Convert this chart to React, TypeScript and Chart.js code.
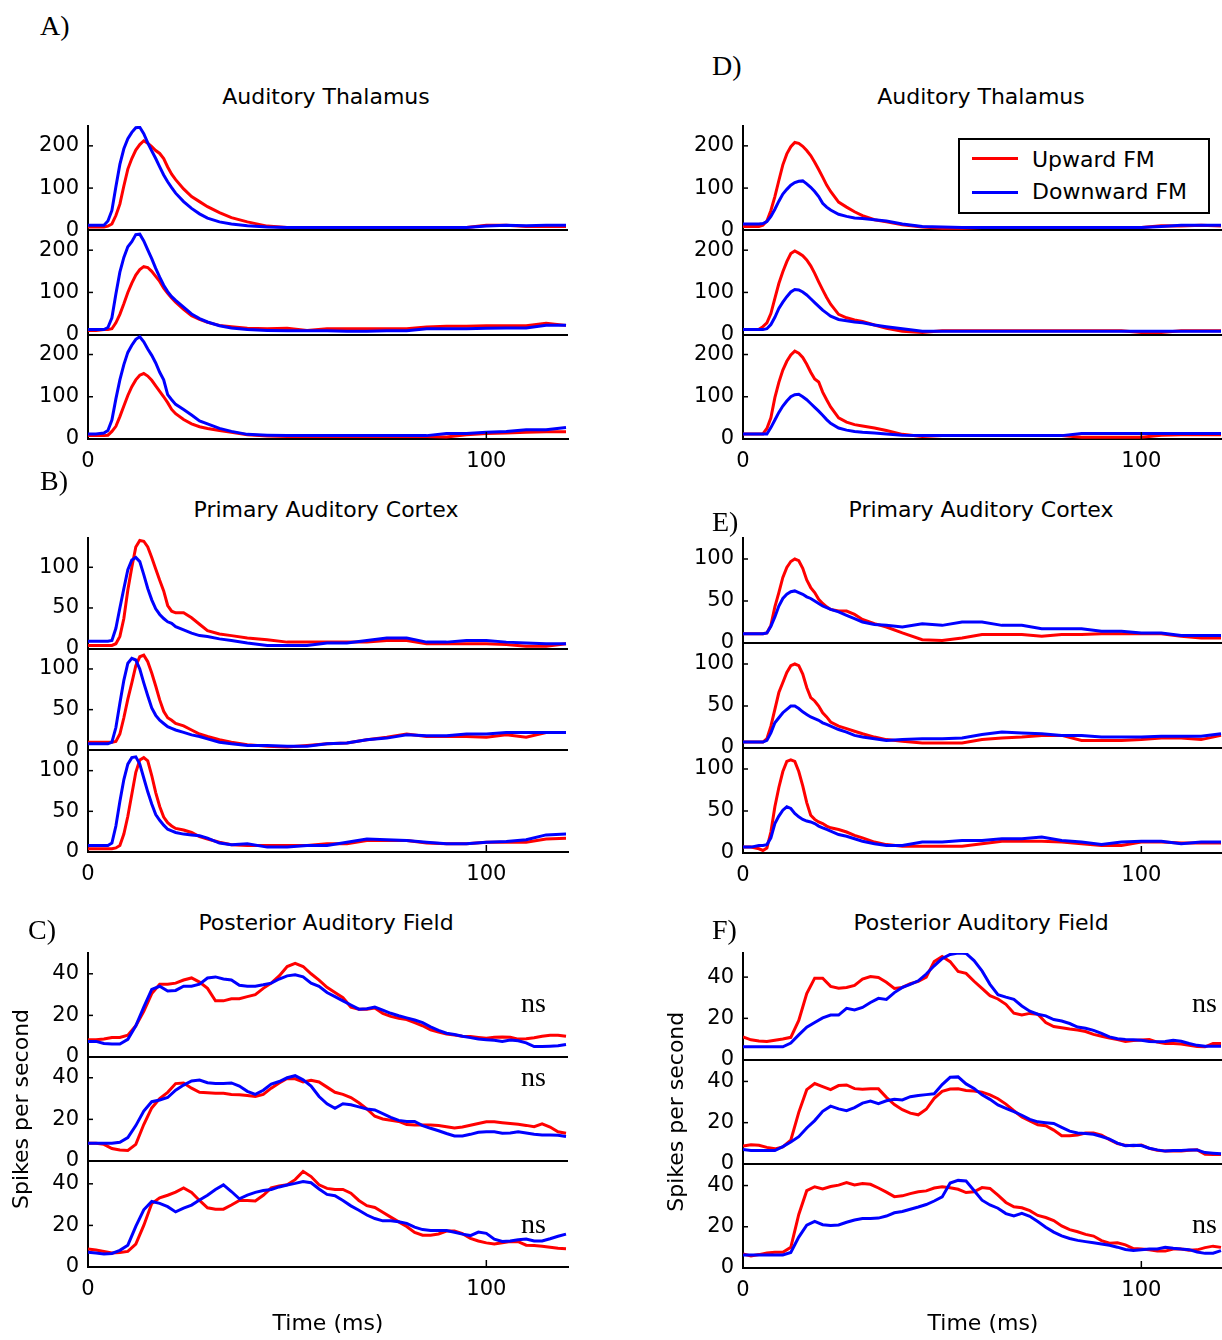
import React, { useEffect, useRef } from 'react';
import { Chart, registerables } from 'chart.js';

Chart.register(...registerables);

// ---------- time grids (ms) ----------
const T_FAST = [0, 2, 4, 5, 6, 7, 8, 9, 10, 11, 12, 13, 14, 15, 16, 17, 18, 19, 20, 21, 22, 24, 26, 28, 30, 33, 36, 40, 45, 50, 55, 60, 65, 70, 75, 80, 85, 90, 95, 100, 105, 110, 115, 120];
const T_SLOW = [0, 2, 4, 6, 8, 10, 12, 14, 16, 18, 20, 22, 24, 26, 28, 30, 32, 34, 36, 38, 40, 42, 44, 46, 48, 50, 52, 54, 56, 58, 60, 62, 64, 66, 68, 70, 72, 74, 76, 78, 80, 82, 84, 86, 88, 90, 92, 94, 96, 98, 100, 102, 104, 106, 108, 110, 112, 114, 116, 118, 120];

// ---------- tick labels ----------
const X_TICKS = [0, 100];
const Y_TICKS_THAL = [0, 100, 200];
const Y_TICKS_CTX = [0, 50, 100];
const Y_TICKS_PAF = [0, 20, 40];

// ---------- A) Auditory Thalamus (left) ----------
const A1_UP = [8, 8, 8, 10, 15, 35, 62, 105, 145, 170, 190, 203, 212, 206, 198, 189, 182, 170, 150, 133, 120, 98, 80, 68, 56, 42, 30, 20, 10, 7, 7, 7, 7, 7, 7, 7, 7, 7, 7, 12, 12, 9, 9, 9];
const A1_DOWN = [12, 12, 12, 22, 47, 103, 156, 193, 217, 232, 243, 244, 229, 207, 188, 170, 150, 131, 115, 101, 88, 68, 52, 39, 29, 20, 15, 11, 8, 7, 7, 7, 7, 7, 7, 7, 7, 7, 7, 10, 12, 11, 12, 12];
const A2_UP = [10, 10, 12, 12, 14, 28, 48, 73, 100, 122, 141, 154, 161, 159, 150, 138, 126, 110, 98, 87, 77, 60, 45, 36, 29, 22, 19, 15, 14, 15, 10, 14, 14, 14, 14, 14, 18, 20, 20, 21, 21, 21, 27, 22];
const A2_DOWN = [12, 12, 12, 17, 40, 96, 148, 183, 208, 220, 237, 238, 222, 201, 180, 157, 136, 117, 102, 90, 81, 65, 49, 38, 30, 21, 16, 12, 10, 9, 9, 9, 8, 8, 9, 9, 14, 14, 14, 15, 16, 16, 22, 22];
const A3_UP = [8, 8, 8, 9, 18, 30, 53, 78, 103, 124, 140, 151, 155, 149, 139, 126, 113, 100, 86, 70, 60, 46, 36, 29, 25, 20, 16, 10, 7, 6, 6, 6, 6, 6, 6, 6, 6, 5, 10, 13, 14, 16, 17, 17];
const A3_DOWN = [12, 12, 14, 20, 45, 95, 140, 176, 205, 222, 236, 242, 230, 213, 198, 180, 158, 140, 105, 93, 82, 70, 57, 43, 36, 25, 18, 11, 9, 8, 8, 8, 8, 8, 8, 8, 8, 13, 13, 16, 18, 22, 22, 27];

// ---------- B) Primary Auditory Cortex (left) ----------
const B1_UP = [4, 4, 4, 4, 4, 6, 15, 37, 72, 100, 125, 133, 132, 125, 112, 98, 84, 71, 53, 46, 44, 44, 38, 30, 22, 18, 16, 13, 11, 8, 8, 8, 8, 8, 10, 10, 6, 6, 6, 6, 5, 3, 3, 6];
const B1_DOWN = [9, 9, 9, 9, 10, 25, 50, 74, 97, 109, 112, 107, 91, 74, 60, 49, 42, 37, 33, 31, 27, 23, 19, 16, 15, 12, 10, 7, 4, 4, 4, 7, 7, 10, 13, 13, 8, 8, 10, 10, 8, 7, 6, 6];
const B2_UP = [10, 10, 10, 10, 10, 11, 20, 40, 63, 83, 104, 115, 117, 109, 95, 79, 62, 48, 40, 37, 33, 30, 25, 20, 17, 13, 10, 7, 5, 4, 6, 8, 9, 13, 16, 20, 17, 17, 17, 16, 19, 16, 22, 22];
const B2_DOWN = [8, 8, 8, 8, 10, 28, 58, 86, 107, 113, 111, 100, 83, 67, 52, 43, 37, 33, 29, 27, 25, 22, 19, 17, 14, 10, 8, 6, 6, 5, 5, 8, 9, 13, 15, 19, 18, 18, 20, 20, 22, 22, 22, 22];
const B3_UP = [4, 4, 4, 4, 4, 5, 8, 22, 44, 71, 98, 113, 116, 112, 94, 73, 56, 43, 36, 32, 29, 27, 24, 19, 16, 12, 9, 8, 8, 8, 8, 10, 10, 14, 14, 14, 11, 10, 10, 12, 12, 12, 16, 17];
const B3_DOWN = [8, 8, 8, 8, 11, 32, 62, 89, 108, 116, 117, 108, 91, 74, 59, 46, 39, 33, 28, 26, 24, 22, 21, 20, 17, 11, 9, 10, 6, 6, 8, 8, 12, 16, 15, 14, 12, 10, 10, 12, 13, 15, 21, 22];

// ---------- C) Posterior Auditory Field (left) ----------
const C1_UP = [8.3, 8.3, 8.6, 9.4, 9.4, 10.5, 15, 22, 30.5, 35, 35, 35.5, 37, 38, 36, 33, 27, 27, 28, 28, 29, 30, 33, 35.5, 39, 43.5, 45, 43.5, 40, 37, 33.5, 31, 28.5, 24, 23, 23, 23.5, 21, 19.5, 18.6, 18, 16.5, 15, 13, 12, 11, 10.6, 10, 9.8, 9.4, 9, 9.5, 9.6, 9.5, 8.6, 8.8, 9.2, 10, 10.5, 10.5, 10];
const C1_DOWN = [7.5, 7.5, 6.5, 6.2, 6.2, 8.5, 15, 24, 32.5, 34, 31.7, 32, 34, 34, 35, 38, 38.5, 37.5, 37, 34.5, 34, 34, 34.7, 35.5, 37.5, 39, 39.5, 38.5, 35.5, 34, 31, 29, 27, 25, 23, 23.2, 24, 22.5, 21, 19.8, 18.8, 17.8, 16.5, 14.5, 12.8, 11.4, 10.8, 10, 9.3, 8.6, 8.3, 8, 7.5, 8.2, 7.8, 6.8, 5, 5, 5.2, 5.4, 6];
const C2_UP = [8.5, 8.5, 8, 6, 5.3, 5, 8, 17.5, 25.5, 30, 33, 37.2, 37.5, 35, 33, 32.8, 32.6, 32.5, 32, 31.8, 31.5, 31, 32, 35, 37.5, 39.7, 39.5, 38, 38.8, 38, 35.5, 33, 32, 30.5, 28, 25, 21.5, 20.2, 19.6, 19, 17.5, 17.3, 17.3, 17.3, 17, 16.4, 15.8, 16.3, 17.2, 18, 18.8, 18.8, 18.4, 18, 17.6, 17.1, 16.5, 17.8, 16.3, 14, 13.3];
const C2_DOWN = [8.5, 8.5, 8.5, 8.5, 9, 11.2, 17, 24, 28.5, 29.3, 30.5, 34, 36.5, 38.5, 38.9, 37.6, 37.2, 37.3, 37.5, 36, 33.5, 32, 34, 37, 38.2, 40, 41, 39, 36, 31, 27.5, 25.3, 27.5, 27, 26, 25, 24.5, 22.8, 21, 19.5, 19, 19, 17, 15.7, 14.5, 13.2, 12, 12, 12.8, 13.8, 14, 14, 13.3, 13.4, 14, 13.4, 12.8, 12.5, 12.5, 12.3, 11.8];
const C3_UP = [8.7, 8.2, 7.5, 6.7, 7, 7.5, 11, 20, 30.5, 33.3, 34.5, 36, 38, 35.8, 32, 28.5, 27.8, 27.8, 29.8, 32, 32, 31.7, 34.5, 38, 39, 39.5, 42, 46, 43.5, 39.5, 37.8, 37.3, 37.3, 35.5, 32, 29.5, 28.6, 26.3, 24, 21.7, 19.5, 16.6, 15.3, 15.3, 15.9, 17.3, 17.3, 16, 13.8, 12.5, 11.6, 11.1, 11.7, 12.3, 12.2, 10.5, 10.3, 10, 9.5, 9, 8.8];
const C3_DOWN = [7.1, 6.7, 6.3, 6.5, 8, 10.5, 19.5, 27.5, 31.5, 30.6, 29, 26.5, 28.3, 29.8, 32.2, 34.5, 37.3, 39.5, 36.3, 32.8, 34.6, 35.9, 36.8, 37.3, 38.5, 39.4, 40.2, 41.1, 40.5, 37.5, 34.9, 34.3, 32, 29.4, 27.3, 25, 23.3, 22.2, 22.2, 21.8, 21, 19.2, 18, 17.5, 17.5, 17.5, 16.7, 15.8, 15.1, 16.8, 16.2, 13.4, 12.3, 12.5, 13.1, 13.5, 12.5, 12.5, 13.6, 14.8, 15.8];

// ---------- D) Auditory Thalamus (right) ----------
const D1_UP = [9, 9, 9, 12, 22, 47, 80, 118, 155, 181, 198, 208, 206, 199, 189, 177, 161, 144, 126, 107, 92, 67, 55, 44, 35, 25, 20, 13, 8, 5, 5, 7, 7, 7, 7, 7, 7, 7, 7, 7, 11, 10, 12, 10];
const D1_DOWN = [15, 15, 15, 16, 21, 33, 50, 69, 86, 97, 107, 113, 116, 117, 110, 102, 92, 80, 64, 55, 48, 38, 33, 29, 28, 25, 22, 15, 9, 8, 7, 7, 7, 7, 7, 7, 7, 7, 7, 7, 9, 12, 12, 12];
const D2_UP = [12, 12, 13, 19, 28, 50, 86, 121, 149, 173, 192, 198, 193, 187, 177, 163, 145, 125, 106, 88, 72, 48, 40, 35, 31, 23, 15, 8, 5, 9, 9, 9, 9, 9, 9, 9, 9, 9, 9, 5, 5, 9, 9, 9];
const D2_DOWN = [12, 12, 12, 12, 14, 24, 41, 62, 77, 90, 101, 107, 106, 101, 94, 85, 76, 67, 58, 51, 44, 36, 33, 30, 28, 23, 19, 14, 8, 8, 8, 8, 8, 8, 8, 8, 8, 8, 8, 8, 8, 8, 8, 8];
const D3_UP = [12, 12, 12, 12, 25, 50, 98, 134, 163, 184, 199, 208, 203, 193, 177, 158, 142, 135, 111, 93, 76, 50, 40, 34, 31, 26, 20, 11, 6, 8, 8, 8, 8, 8, 8, 8, 4, 4, 4, 4, 9, 10, 10, 10];
const D3_DOWN = [12, 12, 12, 12, 12, 27, 45, 63, 78, 90, 100, 105, 106, 100, 93, 84, 75, 66, 56, 46, 37, 26, 21, 18, 16, 14, 12, 9, 8, 8, 8, 8, 8, 8, 8, 8, 13, 13, 13, 13, 13, 13, 13, 13];

// ---------- E) Primary Auditory Cortex (right) ----------
const E1_UP = [11, 11, 11, 11, 12, 21, 43, 60, 78, 90, 97, 100, 98, 89, 75, 66, 60, 52, 47, 43, 40, 38, 38, 34, 28, 23, 19, 12, 4, 3, 6, 10, 10, 10, 8, 10, 10, 11, 11, 11, 11, 8, 6, 6];
const E1_DOWN = [11, 11, 11, 11, 12, 20, 31, 44, 53, 58, 61, 62, 60, 58, 55, 53, 50, 47, 44, 42, 40, 37, 33, 29, 25, 22, 21, 19, 23, 21, 25, 25, 21, 21, 17, 17, 17, 14, 14, 12, 12, 9, 9, 9];
const E2_UP = [7, 7, 7, 7, 11, 26, 46, 66, 78, 90, 98, 100, 98, 88, 72, 60, 56, 50, 42, 37, 31, 26, 23, 20, 17, 13, 10, 8, 6, 6, 6, 10, 12, 13, 15, 15, 9, 9, 9, 10, 12, 12, 10, 15];
const E2_DOWN = [7, 7, 7, 7, 9, 18, 30, 36, 42, 46, 50, 50, 47, 43, 40, 37, 35, 33, 30, 28, 26, 22, 19, 15, 13, 11, 9, 10, 11, 11, 12, 16, 19, 18, 17, 15, 15, 13, 13, 13, 14, 14, 14, 17];
const E3_UP = [7, 7, 5, 3, 6, 25, 55, 78, 97, 109, 111, 109, 97, 80, 60, 45, 40, 37, 35, 32, 30, 28, 25, 21, 18, 13, 10, 8, 8, 8, 8, 11, 14, 14, 14, 13, 11, 9, 9, 13, 13, 12, 12, 12];
const E3_DOWN = [7, 7, 9, 9, 10, 18, 35, 44, 51, 55, 53, 47, 43, 40, 38, 37, 35, 32, 30, 28, 26, 22, 20, 17, 14, 11, 9, 9, 13, 13, 15, 15, 17, 17, 19, 15, 13, 10, 13, 14, 14, 11, 13, 13];

// ---------- F) Posterior Auditory Field (right) ----------
const F1_UP = [11, 9.6, 9, 8.8, 9.4, 10, 10.8, 19, 32, 39.5, 39.5, 35.5, 34.6, 35, 36, 39, 40.3, 39.8, 37.5, 34.5, 35, 36.8, 37.9, 40, 47.5, 50, 47.5, 42.8, 41.8, 38, 34.5, 31, 29.4, 26.8, 22.5, 21.6, 22.4, 22, 18, 16, 15.4, 14.8, 14.3, 13.6, 12.2, 11.3, 10.5, 9.7, 8.8, 9.2, 9.5, 9.7, 8.5, 7.8, 7.8, 7.6, 7, 6.4, 6.2, 7.8, 7.8];
const F1_DOWN = [6.2, 6.2, 6.2, 6.2, 6.2, 6.2, 8, 12, 15.7, 18, 20.2, 21.6, 21.6, 24.9, 24.1, 25.3, 27.7, 29.7, 29.2, 32.5, 35, 36.5, 38.2, 41.5, 45.5, 49, 51, 51.7, 51.5, 48, 43, 36.5, 31.5, 30.3, 29.2, 26, 23.5, 22, 21.2, 19.4, 18.7, 17.5, 15.8, 15.2, 14.2, 12.7, 11, 10.1, 9.8, 9.6, 9.4, 8.8, 8.6, 8.8, 9.4, 8.9, 7.8, 6.9, 6.5, 6.5, 6.5];
const F2_UP = [8.7, 9.3, 9, 8, 7.3, 8.2, 11.5, 25, 36, 39, 37.5, 36, 38, 38.3, 36.5, 36.2, 36.4, 36.4, 32.3, 28.8, 26.3, 24.6, 23.8, 26.5, 31.8, 35.2, 36.3, 36.4, 35.6, 35.4, 34.8, 33.5, 31.6, 29, 25.8, 22.8, 20.8, 19, 18.5, 16.4, 13.7, 13.6, 14, 15, 15, 14, 11.8, 9.9, 9, 8.8, 9.2, 7.5, 6.6, 6.2, 6.2, 6.2, 6.6, 6.8, 4.7, 4.6, 4.6];
const F2_DOWN = [7, 6.5, 6.5, 6.5, 6.5, 8.4, 10.6, 13.2, 17.4, 21, 25.5, 28, 26.7, 25.8, 27.3, 29.5, 30.5, 29.2, 30.6, 31.4, 31, 32.6, 33.2, 33.6, 34, 38.5, 42, 42.2, 38.8, 36.6, 33.5, 31.3, 28.6, 26.9, 25.3, 23.6, 21.6, 20.4, 20, 19.6, 17.7, 15.9, 15, 14.7, 14.4, 13.3, 12, 10.1, 8.8, 9, 8.9, 7.6, 6.8, 6.2, 6.5, 6.5, 6.8, 6.8, 5.5, 5.2, 4.9];
const F3_UP = [6.8, 5.8, 6.5, 7.3, 7.6, 7.6, 10, 26, 37.5, 39.4, 38.4, 39.5, 40.2, 41.4, 40.3, 41, 40.6, 38.8, 36.8, 34.6, 35, 36.1, 37, 37.4, 38.8, 39.4, 38.9, 38.2, 36.6, 37, 39, 38.6, 35.3, 31.8, 29.7, 29.2, 27.8, 25.5, 24.5, 23, 20.4, 18.6, 17.6, 16.3, 15.5, 13.3, 12, 12.2, 11.2, 9.4, 9.2, 8.9, 8.2, 8.2, 9.2, 9.2, 8.6, 8.8, 9.9, 10.6, 10];
const F3_DOWN = [6.3, 6.3, 6.3, 6.3, 6.3, 6.3, 7.5, 15, 20.8, 22.6, 21, 20.6, 20.9, 22.2, 23.3, 24, 24, 24.2, 25.2, 26.8, 27.4, 28.5, 29.6, 30.8, 32.5, 34.5, 41.2, 42.5, 42.2, 37.6, 32.9, 30.6, 29, 26.4, 25.3, 26.5, 25.1, 22.5, 19.8, 17.4, 15.6, 14.3, 13.4, 12.8, 12.2, 11.6, 11, 10.1, 9, 8.5, 8.9, 9.2, 9.2, 10.1, 9.6, 9.2, 8.9, 7.8, 7.1, 7.2, 8.4];

// ---------- labels ----------
const SERIES_LABELS = ['Upward FM', 'Downward FM'];
const PANEL_TITLES = ['Auditory Thalamus', 'Primary Auditory Cortex', 'Posterior Auditory Field'];
const X_TITLE = 'Time (ms)';
const Y_TITLE = 'Spikes per second';

// ---------- styling / layout ----------
const RED = '#ff0000';
const BLUE = '#0000ff';
const SANS = "'DejaVu Sans', 'Liberation Sans', sans-serif";
const SERIF = "'Liberation Serif', 'Times New Roman', serif";
const Y_AXIS_W = 88;
const PLOT_W = 480;
const PAD_R = 2;
const PAD_T = 16;
const X_MAX = 120.5;

const PANELS = [
  { id: 'A', colLeft: 0, chartTop: 126, chartH: 313, xH: 34, times: T_FAST, yMax: [247, 247, 247], yTicks: Y_TICKS_THAL, sub: [[A1_UP, A1_DOWN], [A2_UP, A2_DOWN], [A3_UP, A3_DOWN]], titles: false },
  { id: 'B', colLeft: 0, chartTop: 538, chartH: 314, xH: 34, times: T_FAST, yMax: [136, 125, 125], yTicks: Y_TICKS_CTX, sub: [[B1_UP, B1_DOWN], [B2_UP, B2_DOWN], [B3_UP, B3_DOWN]], titles: false },
  { id: 'C', colLeft: 0, chartTop: 953, chartH: 314, xH: 73, times: T_SLOW, yMax: [50, 50, 51], yTicks: Y_TICKS_PAF, sub: [[C1_UP, C1_DOWN], [C2_UP, C2_DOWN], [C3_UP, C3_DOWN]], titles: true },
  { id: 'D', colLeft: 655, chartTop: 126, chartH: 313, xH: 34, times: T_FAST, yMax: [247, 247, 247], yTicks: Y_TICKS_THAL, sub: [[D1_UP, D1_DOWN], [D2_UP, D2_DOWN], [D3_UP, D3_DOWN]], titles: false },
  { id: 'E', colLeft: 655, chartTop: 538, chartH: 315, xH: 34, times: T_FAST, yMax: [125, 125, 125], yTicks: Y_TICKS_CTX, sub: [[E1_UP, E1_DOWN], [E2_UP, E2_DOWN], [E3_UP, E3_DOWN]], titles: false },
  { id: 'F', colLeft: 655, chartTop: 953, chartH: 315, xH: 72, times: T_SLOW, yMax: [51.7, 50.6, 50.5], yTicks: Y_TICKS_PAF, sub: [[F1_UP, F1_DOWN], [F2_UP, F2_DOWN], [F3_UP, F3_DOWN]], titles: true },
];

const inwardTicks = {
  id: 'inwardTicks',
  afterDatasetsDraw(chart: any) {
    const { ctx, chartArea } = chart;
    ctx.save();
    ctx.strokeStyle = '#000';
    ctx.lineWidth = 1.5;
    Object.values(chart.scales).forEach((s: any) => {
      s.ticks.forEach((t: any) => {
        if (t.value === 0) return;
        ctx.beginPath();
        if (s.axis === 'y') {
          const y = s.getPixelForValue(t.value);
          ctx.moveTo(chartArea.left, y);
          ctx.lineTo(chartArea.left + 5, y);
        } else {
          const x = s.getPixelForValue(t.value);
          ctx.moveTo(x, chartArea.bottom);
          ctx.lineTo(x, chartArea.bottom - 7);
        }
        ctx.stroke();
      });
    });
    ctx.restore();
  },
};

function buildConfig(p: any): any {
  const tickFont = { family: SANS, size: 21 };
  const titleFont = { family: SANS, size: 22 };
  const datasets: any[] = [];
  const scales: any = {
    x: {
      type: 'linear',
      position: 'bottom',
      min: 0,
      max: X_MAX,
      bounds: 'data',
      afterFit: (s: any) => { s.height = p.xH; },
      afterBuildTicks: (s: any) => { s.ticks = X_TICKS.map((v) => ({ value: v })); },
      ticks: { font: tickFont, color: '#000', padding: 10, maxRotation: 0, autoSkip: false },
      grid: { display: false, drawTicks: false },
      border: { display: true, color: '#000', width: 2 },
      title: p.titles
        ? { display: true, text: X_TITLE, font: titleFont, color: '#000', padding: { top: 0, bottom: 3 } }
        : { display: false },
    },
  };
  p.sub.forEach((pair: number[][], i: number) => {
    const yId = 'y' + i;
    const [up, down] = pair;
    datasets.push({
      label: SERIES_LABELS[1], yAxisID: yId, xAxisID: 'x',
      data: p.times.map((t: number, k: number) => ({ x: t, y: down[k] })),
      borderColor: BLUE, backgroundColor: BLUE, borderWidth: 3, pointRadius: 0, tension: 0,
    });
    datasets.push({
      label: SERIES_LABELS[0], yAxisID: yId, xAxisID: 'x',
      data: p.times.map((t: number, k: number) => ({ x: t, y: up[k] })),
      borderColor: RED, backgroundColor: RED, borderWidth: 3, pointRadius: 0, tension: 0,
    });
    scales[yId] = {
      type: 'linear',
      position: 'left',
      stack: 'panel' + p.id,
      stackWeight: p.yMax[i],
      weight: 3 - i,
      min: 0,
      max: p.yMax[i],
      bounds: 'data',
      afterBuildTicks: (s: any) => { s.ticks = p.yTicks.map((v: number) => ({ value: v })); },
      afterFit: (s: any) => { s.width = Y_AXIS_W; s.paddingTop = 0; s.paddingBottom = 0; },
      ticks: { font: tickFont, color: '#000', padding: 9, autoSkip: false },
      grid: {
        drawTicks: false,
        lineWidth: 2,
        color: (c: any) => (c.tick && c.tick.value === 0 ? '#000' : 'rgba(0,0,0,0)'),
      },
      border: { display: true, color: '#000', width: 2 },
      title: p.titles && i === 1
        ? { display: true, text: Y_TITLE, font: titleFont, color: '#000', padding: { top: 9, bottom: 0 } }
        : { display: false },
    };
  });
  return {
    type: 'line',
    data: { datasets },
    options: {
      animation: false,
      responsive: false,
      maintainAspectRatio: false,
      devicePixelRatio: 1,
      events: [],
      layout: { padding: { top: PAD_T, right: PAD_R, left: 0, bottom: 0 } },
      plugins: { legend: { display: false }, tooltip: { enabled: false }, title: { display: false } },
      scales,
    },
    plugins: [inwardTicks],
  };
}

function Panel({ p }: { p: any }) {
  const ref = useRef<HTMLCanvasElement>(null);
  const w = Y_AXIS_W + PLOT_W + PAD_R;
  const h = PAD_T + p.chartH + p.xH;
  useEffect(() => {
    const chart = new Chart(ref.current as HTMLCanvasElement, buildConfig(p));
    return () => chart.destroy();
  }, []);
  return (
    <canvas
      ref={ref}
      width={w}
      height={h}
      style={{ position: 'absolute', left: p.colLeft, top: p.chartTop - PAD_T, width: w, height: h }}
    />
  );
}

function Txt({ x, y, text, font, size, align = 'left', w = 400 }: any) {
  const left = align === 'center' ? x - w / 2 : x;
  return (
    <div
      style={{
        position: 'absolute', left, top: y, width: align === 'center' ? w : 'auto',
        textAlign: align, fontFamily: font, fontSize: size, lineHeight: size + 'px',
        color: '#000', whiteSpace: 'nowrap',
      }}
    >
      {text}
    </div>
  );
}

export default function App() {
  const cols = [0, 655];
  const titleTops = [86, 499, 912];
  return (
    <div style={{ position: 'fixed', left: 0, top: 0, width: 1222, height: 1340, background: '#fff', overflow: 'hidden' }}>
      {PANELS.map((p) => <Panel key={p.id} p={p} />)}
      {cols.map((c) => titleTops.map((t, i) => (
        <Txt key={c + '-' + i} x={c + Y_AXIS_W + 238} y={t} text={PANEL_TITLES[i]} font={SANS} size={22} align="center" />
      )))}
      <Txt x={40} y={12} text="A)" font={SERIF} size={28} />
      <Txt x={40} y={467} text="B)" font={SERIF} size={28} />
      <Txt x={28} y={916} text="C)" font={SERIF} size={28} />
      <Txt x={712} y={52} text="D)" font={SERIF} size={28} />
      <Txt x={712} y={508} text="E)" font={SERIF} size={28} />
      <Txt x={712} y={916} text="F)" font={SERIF} size={28} />
      <Txt x={521} y={989} text="ns" font={SERIF} size={28} />
      <Txt x={521} y={1063} text="ns" font={SERIF} size={28} />
      <Txt x={521} y={1210} text="ns" font={SERIF} size={28} />
      <Txt x={1192} y={989} text="ns" font={SERIF} size={28} />
      <Txt x={1192} y={1210} text="ns" font={SERIF} size={28} />
      <div style={{ position: 'absolute', left: 958, top: 138, width: 252, height: 76, boxSizing: 'border-box', border: '2px solid #000', background: '#fff' }}>
        <div style={{ position: 'absolute', left: 12, top: 17, width: 46, height: 3, background: RED }} />
        <div style={{ position: 'absolute', left: 12, top: 51, width: 46, height: 3, background: BLUE }} />
        <Txt x={72} y={9} text={SERIES_LABELS[0]} font={SANS} size={22} />
        <Txt x={72} y={41} text={SERIES_LABELS[1]} font={SANS} size={22} />
      </div>
    </div>
  );
}
